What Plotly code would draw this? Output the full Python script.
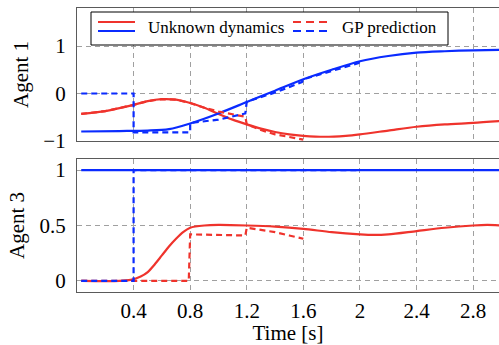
import plotly.graph_objects as go

# ---------------- data ----------------
# Agent 1 (top panel)
a1_true_t = [0.03, 0.2, 0.4, 0.5, 0.6, 0.7, 0.8, 0.9, 1.0, 1.1, 1.2, 1.3, 1.4, 1.5, 1.6, 1.75, 1.9, 2.0, 2.2, 2.4, 2.6, 2.8, 3.0]
a1_true_red = [-0.43, -0.37, -0.24, -0.16, -0.12, -0.13, -0.2, -0.3, -0.43, -0.55, -0.65, -0.74, -0.81, -0.86, -0.89, -0.91, -0.89, -0.86, -0.78, -0.7, -0.65, -0.62, -0.58]
a1_true_blue_t = [0.03, 0.3, 0.5, 0.65, 0.8, 1.0, 1.2, 1.4, 1.6, 1.8, 2.0, 2.2, 2.4, 2.6, 2.8, 3.0]
a1_true_blue = [-0.8, -0.79, -0.78, -0.75, -0.63, -0.42, -0.18, 0.06, 0.3, 0.5, 0.68, 0.79, 0.86, 0.89, 0.91, 0.92]

a1_gp_red_t = [0.03, 0.2, 0.4, 0.5, 0.6, 0.7, 0.8, 0.9, 1.0, 1.1, 1.19, 1.2, 1.3, 1.4, 1.5, 1.6]
a1_gp_red = [-0.43, -0.37, -0.24, -0.16, -0.12, -0.13, -0.2, -0.3, -0.38, -0.44, -0.49, -0.65, -0.77, -0.86, -0.92, -0.97]
a1_gp_blue_t = [0.03, 0.4, 0.4, 0.8, 0.8, 1.0, 1.19, 1.2, 1.4, 1.59, 1.6, 1.8, 1.99, 2.0]
a1_gp_blue = [0.0, 0.0, -0.82, -0.82, -0.62, -0.55, -0.42, -0.17, 0.02, 0.24, 0.3, 0.47, 0.64, 0.68]

# Agent 3 (bottom panel)
a3_true_t = [0.03, 0.3, 0.38, 0.45, 0.5, 0.55, 0.6, 0.65, 0.7, 0.75, 0.8, 0.9, 1.0, 1.2, 1.4, 1.6, 1.8, 2.0, 2.1, 2.2, 2.4, 2.6, 2.8, 2.9, 3.0]
a3_true_red = [0.0, 0.0, 0.01, 0.04, 0.08, 0.15, 0.23, 0.31, 0.38, 0.44, 0.48, 0.5, 0.505, 0.5, 0.49, 0.47, 0.44, 0.42, 0.415, 0.42, 0.45, 0.48, 0.5, 0.505, 0.5]
a3_true_blue_t = [0.03, 3.0]
a3_true_blue = [1.0, 1.0]

a3_gp_red_t = [0.03, 0.79, 0.8, 1.19, 1.2, 1.3, 1.4, 1.5, 1.6]
a3_gp_red = [0.0, 0.0, 0.42, 0.41, 0.48, 0.46, 0.44, 0.41, 0.38]
a3_gp_blue_t = [0.03, 0.4, 0.4, 2.0]
a3_gp_blue = [0.0, 0.0, 1.0, 1.0]

x_ticks = [0.4, 0.8, 1.2, 1.6, 2.0, 2.4, 2.8]
x_ticklabels = ["0.4", "0.8", "1.2", "1.6", "2", "2.4", "2.8"]
a1_yticks = [-1, 0, 1]
a3_yticks = [0, 0.5, 1]
a3_yticklabels = ["0", "0.5", "1"]

legend_labels = ["Unknown dynamics", "GP prediction"]

# ---------------- style ----------------
RED = "#ef332c"
BLUE = "#0a2bff"
FAM = "Liberation Serif, DejaVu Serif, serif"
TICKF = dict(family=FAM, size=21, color="black")
TITLEF = dict(family=FAM, size=21, color="black")
W, H = 499, 345
ML, MR, MT, MB = 77, 0, 8, 53
LW = 2.2
DASH = "6px,4px"

fig = go.Figure()

def add(t, y, color, dash, xa, ya, shape):
    fig.add_trace(go.Scatter(x=t, y=y, mode="lines", xaxis=xa, yaxis=ya,
                             line=dict(color=color, width=LW, dash=dash, shape=shape,
                                       smoothing=0.8 if shape == "spline" else None),
                             showlegend=False, hoverinfo="skip"))

add(a1_true_t, a1_true_red, RED, "solid", "x2", "y2", "spline")
add(a1_true_blue_t, a1_true_blue, BLUE, "solid", "x2", "y2", "spline")
add(a1_gp_red_t, a1_gp_red, RED, DASH, "x2", "y2", "linear")
add(a1_gp_blue_t, a1_gp_blue, BLUE, DASH, "x2", "y2", "linear")

add(a3_true_t, a3_true_red, RED, "solid", "x", "y", "spline")
add(a3_true_blue_t, a3_true_blue, BLUE, "solid", "x", "y", "linear")
add(a3_gp_red_t, a3_gp_red, RED, DASH, "x", "y", "linear")
add(a3_gp_blue_t, a3_gp_blue, BLUE, DASH, "x", "y", "linear")

plot_h = H - MT - MB
def py(pix):  # pixel row -> paper y
    return (H - MB - pix) / plot_h
def px(pix):  # pixel col -> paper x
    return (pix - ML) / (W - ML - MR)

FRAME = "#5a5a5a"
GRID = "#a0a0a0"
xcommon = dict(range=[0, 2.983], tickvals=x_ticks, showgrid=True, gridcolor=GRID,
               griddash="5px,4px", gridwidth=0.9, zeroline=False, showline=True,
               linecolor=FRAME, linewidth=1.2, mirror=True, ticks="", tickfont=TICKF)
ycommon = dict(showgrid=True, gridcolor=GRID, griddash="5px,4px", gridwidth=0.9,
               zeroline=False, showline=True, linecolor=FRAME, linewidth=1.2,
               ticks="", ticklabelstandoff=6, tickfont=TICKF)

fig.update_layout(
    width=W, height=H,
    margin=dict(l=ML, r=MR, t=MT, b=MB),
    plot_bgcolor="white", paper_bgcolor="white",
    font=dict(family=FAM, size=20, color="black"),
    showlegend=False,
    xaxis=dict(**xcommon, ticktext=x_ticklabels, domain=[0, 1], anchor="y",
               title=dict(text="Time [s]", standoff=3, font=TITLEF)),
    yaxis=dict(**ycommon, range=[-0.1, 1.1], tickvals=a3_yticks, ticktext=a3_yticklabels,
               domain=[0, py(159)], anchor="x",
               title=dict(text="Agent 3", standoff=9, font=TITLEF)),
    xaxis2=dict(**xcommon, showticklabels=False, domain=[0, 1], anchor="y2", matches="x"),
    yaxis2=dict(**ycommon, range=[-1, 1.8], tickvals=a1_yticks,
                domain=[py(141), 1], anchor="x2",
                title=dict(text="Agent 1", standoff=9, font=TITLEF)),
)

# hand-drawn legend box (two columns, each with a red and a blue sample)
shapes = [dict(type="rect", xref="paper", yref="paper", x0=px(91), x1=px(448),
               y0=py(45), y1=py(12), line=dict(color="black", width=1), fillcolor="white")]
for (x0, x1, d) in [(98, 135, "solid"), (293, 327, "8px,5px")]:
    for (yy, c) in [(22, RED), (31, BLUE)]:
        shapes.append(dict(type="line", xref="paper", yref="paper", x0=px(x0), x1=px(x1),
                           y0=py(yy), y1=py(yy), line=dict(color=c, width=LW, dash=d)))
fig.update_layout(shapes=shapes)
for xl, txt in [(146, legend_labels[0]), (340, legend_labels[1])]:
    fig.add_annotation(xref="paper", yref="paper", x=px(xl), y=py(27), text=txt,
                       showarrow=False, xanchor="left", yanchor="middle",
                       font=dict(family=FAM, size=17, color="black"))

fig.write_html("out.html")
